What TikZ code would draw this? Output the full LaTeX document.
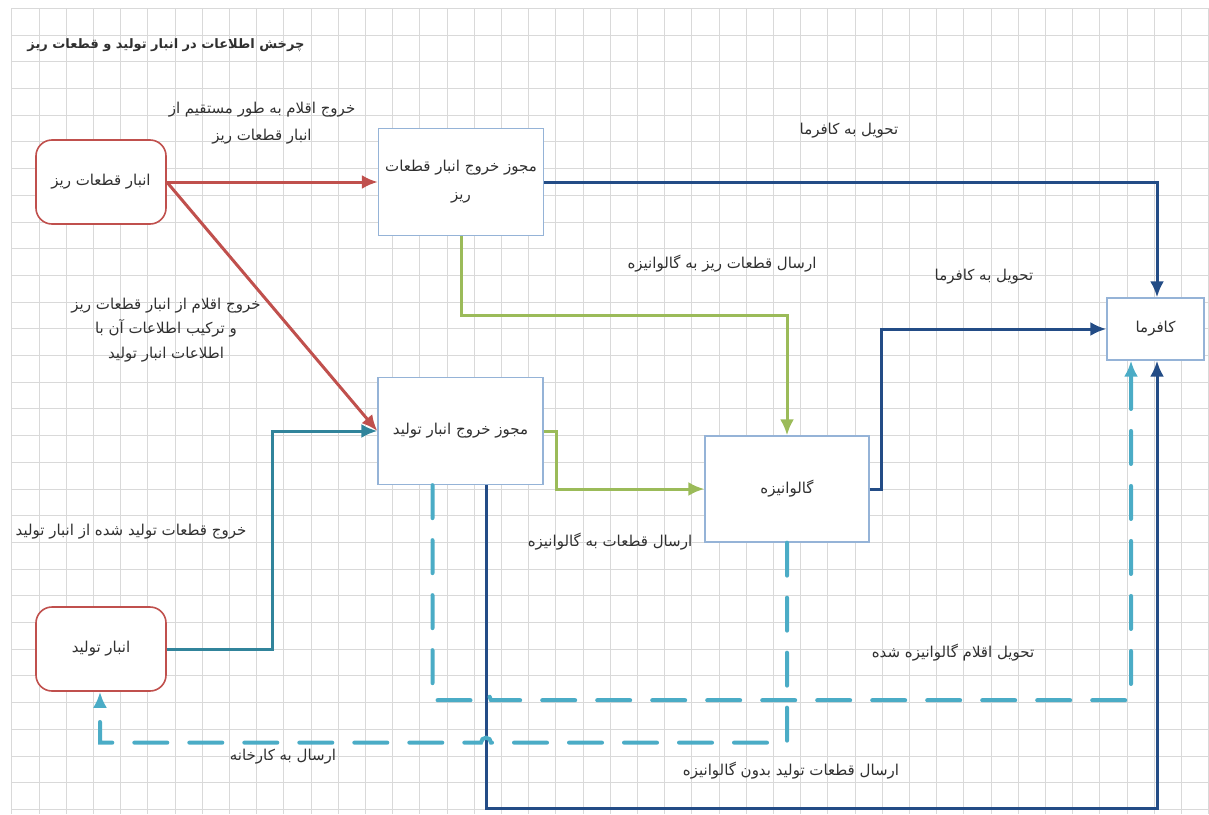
\documentclass[tikz,border=0pt]{standalone}
\usepackage{fontspec}
\newfontfamily\arabicfont[Script=Arabic]{DejaVu Sans}
\TeXXeTstate=1
\usetikzlibrary{arrows.meta}
\definecolor{storered}{HTML}{C0504D}
\definecolor{boxblue}{HTML}{95B3D7}
\definecolor{flowblue}{HTML}{234C86}
\definecolor{flowgreen}{HTML}{9BBB59}
\definecolor{flowteal}{HTML}{31849B}
\definecolor{flowcyan}{HTML}{4BACC6}
\definecolor{gridgray}{HTML}{D9D9D9}
\definecolor{textgray}{HTML}{303030}
\newcommand{\fatxt}[1]{\beginR #1\endR}
\tikzset{store/.style = {draw=storered, line width=1.6pt, rounded corners=16pt, fill=white, minimum width=130pt, minimum height=84pt, text=textgray}}
\tikzset{permit/.style = {draw=boxblue, line width=1.3pt, fill=white, minimum width=165pt, minimum height=107pt, align=center, text=textgray}}
\tikzset{note/.style = {align=center, text=textgray}}
\tikzset{flow/.style = {->, line width=3pt}}
\tikzset{dashflow/.style = {->, flowcyan, line width=4pt, dash pattern=on 33pt off 22pt, line cap=round}}
\tikzset{gridline/.style = {gridgray, line width=0.8pt}}

\begin{document}
\begin{tikzpicture}[x=1pt, y=-1pt, >={Latex[length=16pt,width=14pt]}, font=\arabicfont\fontsize{15}{25}\selectfont]
  \useasboundingbox (0,0) rectangle (1209,814);
  \foreach \gx in {0,...,44} \draw[gridline] (11.7+27.2*\gx,8.3) -- (11.7+27.2*\gx,814);
  \foreach \gy in {0,...,30} \draw[gridline] (11.7,8.3+26.7*\gy) -- (1209,8.3+26.7*\gy);

  \node [note, font=\arabicfont\bfseries\fontsize{13}{25}\selectfont] (title) at (166,45) {\fatxt{چرخش اطلاعات در انبار تولید و قطعات ریز}};

  \node [store] (anbarRiz) at (101,182) {\fatxt{انبار قطعات ریز}};
  \node [store] (anbarTolid) at (101,649) {\fatxt{انبار تولید}};
  \node [permit, font=\arabicfont\fontsize{15}{28}\selectfont] (mojavezRiz) at (461,182) {\fatxt{مجوز خروج انبار قطعات}\\\fatxt{ریز}};
  \node [permit] (mojavezTolid) at (460.5,431) {\fatxt{مجوز خروج انبار تولید}};
  \node [permit, minimum width=164pt, minimum height=106pt] (galvanize) at (787,489) {\fatxt{گالوانیزه}};
  \node [permit, minimum width=97pt, minimum height=62pt] (kafarma) at (1155.5,329) {\fatxt{کافرما}};

  \node [note, font=\arabicfont\fontsize{15}{27}\selectfont] (lblDirect) at (262,123) {\fatxt{خروج اقلام به طور مستقیم از}\\\fatxt{انبار قطعات ریز}};
  \node [note] (lblDeliverA) at (849,131) {\fatxt{تحویل به کافرما}};
  \node [note] (lblGalvRiz) at (722,264) {\fatxt{ارسال قطعات ریز به گالوانیزه}};
  \node [note] (lblDeliverB) at (984,277) {\fatxt{تحویل به کافرما}};
  \node [note, font=\arabicfont\fontsize{15}{24.5}\selectfont] (lblCombine) at (166,330) {\fatxt{خروج اقلام از انبار قطعات ریز}\\\fatxt{و ترکیب اطلاعات آن با}\\\fatxt{اطلاعات انبار تولید}};
  \node [note] (lblOutTolid) at (131,532) {\fatxt{خروج قطعات تولید شده از انبار تولید}};
  \node [note] (lblGalvSend) at (610,542) {\fatxt{ارسال قطعات به گالوانیزه}};
  \node [note] (lblGalvDone) at (953,653) {\fatxt{تحویل اقلام گالوانیزه شده}};
  \node [note] (lblFactory) at (283,757) {\fatxt{ارسال به کارخانه}};
  \node [note] (lblNoGalv) at (791,771) {\fatxt{ارسال قطعات تولید بدون گالوانیزه}};

  \draw[flow, storered] (anbarRiz.east) -- (mojavezRiz.west);
  \draw[flow, storered] (anbarRiz.east) -- (mojavezTolid.west);
  \draw[flow, flowteal] (anbarTolid.east) -- ++(106,0) |- (mojavezTolid.west);
  \draw[flow, flowgreen] (mojavezRiz.south) -- ++(0,79) -| (galvanize.north);
  \draw[flow, flowgreen] (mojavezTolid.east) -- ++(13,0) |- (galvanize.west);
  \draw[flow, flowblue] (mojavezRiz.east) -| ([xshift=1.5pt]kafarma.north);
  \draw[flow, flowblue] (galvanize.east) -- ++(12,0) |- (kafarma.west);
  \draw[flow, flowblue] ([xshift=26pt]mojavezTolid.south) -- ++(0,323) -| ([xshift=1.5pt]kafarma.south);
  \draw[dashflow] ([xshift=-28pt]mojavezTolid.south) -- ++(0,215) -- ++(48.5,0) arc[start angle=180, end angle=0, radius=5pt] -| ([xshift=-24.5pt]kafarma.south);
  \draw[dashflow] (galvanize.south) -- ++(0,200) -- ++(-296,0) arc[start angle=0, end angle=180, radius=5pt] -| ([xshift=-1pt]anbarTolid.south);
\end{tikzpicture}
\end{document}
